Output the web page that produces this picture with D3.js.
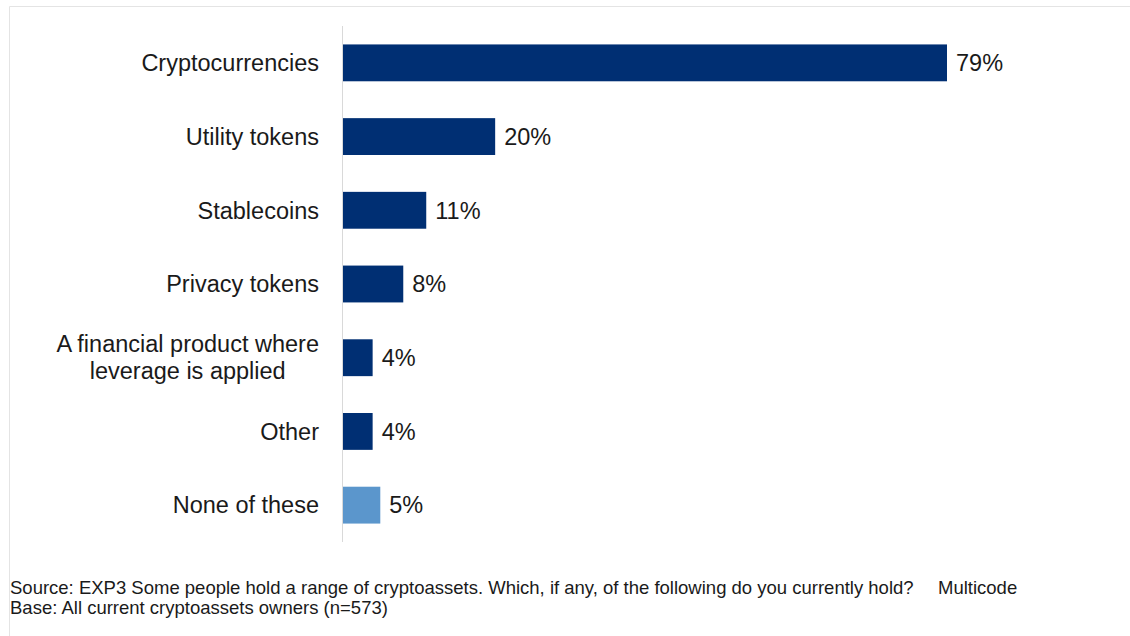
<!DOCTYPE html>
<html>
<head>
<meta charset="utf-8">
<script src="https://cdn.jsdelivr.net/npm/d3@7"></script>
<style>
  html, body { margin: 0; padding: 0; background: #fff; }
  svg { display: block; font-family: "Liberation Sans", Arial, sans-serif; }
</style>
</head>
<body>
<svg id="chart" width="1130" height="636"></svg>
<script>
// Holdings of cryptoasset types among current owners (%)
const categories = [
  ["Cryptocurrencies"],
  ["Utility tokens"],
  ["Stablecoins"],
  ["Privacy tokens"],
  ["A financial product where", "leverage is applied"],
  ["Other"],
  ["None of these"]
];
const values = [79, 20, 11, 8, 4, 4, 5];
const highlight = [false, false, false, false, false, false, true];
const footnotes = [
  "Source: EXP3 Some people hold a range of cryptoassets. Which, if any, of the following do you currently hold?",
  "Base: All current cryptoassets owners (n=573)"
];
const footnoteTail = "Multicode";

const svg = d3.select("#chart");
const W = 1130, H = 636;
const plot = { left: 342, top: 26, bottom: 542 };

// light frame on top and left
svg.append("line").attr("x1", 9.5).attr("x2", W).attr("y1", 6.5).attr("y2", 6.5)
  .attr("stroke", "#e4e4e4").attr("stroke-width", 1);
svg.append("line").attr("x1", 9.5).attr("x2", 9.5).attr("y1", 6.5).attr("y2", H)
  .attr("stroke", "#e4e4e4").attr("stroke-width", 1);

const x = d3.scaleLinear().domain([0, 79]).range([plot.left, 947]);
const idx = d3.range(categories.length);
const y = d3.scaleBand().domain(idx).range([plot.top, plot.bottom]).paddingInner(0.5).paddingOuter(0.25);

// bars
svg.append("g").selectAll("rect").data(idx).join("rect")
  .attr("x", x(0))
  .attr("y", i => y(i))
  .attr("width", i => x(values[i]) - x(0))
  .attr("height", y.bandwidth())
  .attr("fill", i => highlight[i] ? "#5b96cc" : "#002f73");

// category axis line
svg.append("line").attr("x1", plot.left + 0.5).attr("x2", plot.left + 0.5)
  .attr("y1", plot.top).attr("y2", plot.bottom)
  .attr("stroke", "#d9d9d9").attr("stroke-width", 1);

// category labels: block right-aligned, lines centred within block
const labelRight = 319;
const lineH = 27;
const fontSize = 23.5;
const lg = svg.append("g").attr("font-size", fontSize).attr("fill", "#1a1a1a");
idx.forEach(i => {
  const lines = categories[i];
  const cy = y(i) + y.bandwidth() / 2;
  const g = lg.append("g");
  const texts = lines.map((t, k) => g.append("text")
    .text(t)
    .attr("y", cy + (k - (lines.length - 1) / 2) * lineH)
    .attr("dy", "0.35em"));
  const maxW = d3.max(texts, t => t.node().getComputedTextLength());
  texts.forEach(t => t.attr("x", labelRight - maxW / 2).attr("text-anchor", "middle"));
});

// value labels
svg.append("g").attr("font-size", fontSize).attr("fill", "#1a1a1a")
  .selectAll("text").data(idx).join("text")
  .attr("x", i => x(values[i]) + 9)
  .attr("y", i => y(i) + y.bandwidth() / 2)
  .attr("dy", "0.35em")
  .text(i => values[i] + "%");

// footnotes
const fg = svg.append("g").attr("font-size", 18.5).attr("fill", "#1a1a1a");
fg.append("text").attr("x", 10).attr("y", 594).text(footnotes[0]);
fg.append("text").attr("x", 938).attr("y", 594).text(footnoteTail);
fg.append("text").attr("x", 10).attr("y", 614).text(footnotes[1]);
</script>
</body>
</html>
